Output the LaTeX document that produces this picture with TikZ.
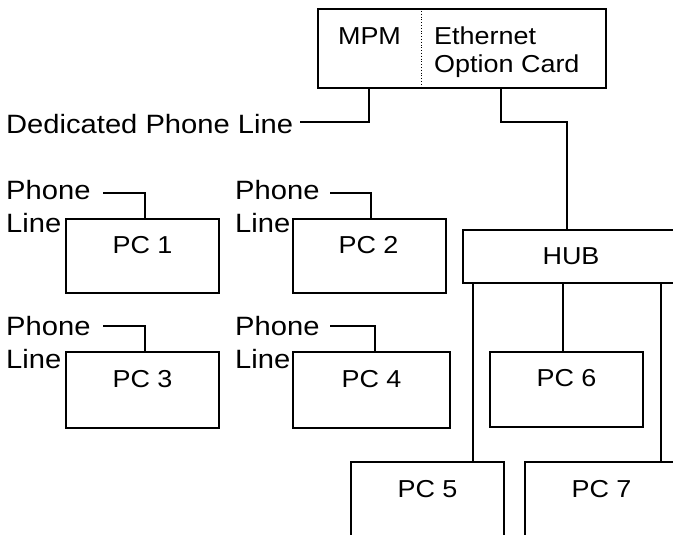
\documentclass[tikz,border=0pt]{standalone}
\usepackage{fontspec}
\setmainfont{Liberation Sans}[FakeStretch=1.1]
\begin{document}
\begin{tikzpicture}[x=1pt,y=-1pt,
  wire/.style={line width=1.7pt},
  box/.style={draw, line width=1.7pt, rectangle, inner sep=0pt},
  txt/.style={inner sep=0pt, font=\fontsize{26.5}{30}\selectfont},
  intxt/.style={inner sep=0pt, font=\fontsize{24.5}{28}\selectfont},
]
\useasboundingbox (0,0) rectangle (673,535);
\clip (0,0) rectangle (673,535);

% management module with the Ethernet card
\node[box, minimum width=288pt, minimum height=79pt] (card) at (462,48.5) {};
\coordinate (divx) at (421,0);
\draw[line width=0.8pt, dotted] (card.north -| divx) -- (card.south -| divx);
\node[intxt, anchor=base] (mpm) at (369.5,45) {MPM};
\node[intxt, anchor=base west] (eth) at (434,45) {Ethernet};
\node[intxt, anchor=base west] (opt) at (434,73) {Option Card};

% dedicated phone line
\node[txt, anchor=base west] (ded) at (6,133) {Dedicated Phone Line};
\coordinate (mpmx) at (369,0);
\coordinate (dedEnd) at (300,122);
\draw[wire] (card.south -| mpmx) |- (dedEnd);

% hub
\node[box, minimum width=216pt, minimum height=53pt] (hub) at (571,256.5) {};
\node[intxt, anchor=base] (hubt) at (571,264) {HUB};
\coordinate (ethx) at (501,0);
\coordinate (bend) at (567,122);
\draw[wire] (card.south -| ethx) |- (bend) -- (hub.north -| bend);

% dial-up PCs
\node[box, minimum width=153pt, minimum height=74pt] (pc1) at (142.5,256) {};
\node[box, minimum width=153pt, minimum height=74pt] (pc2) at (369.5,256) {};
\node[box, minimum width=153pt, minimum height=76pt] (pc3) at (142.5,390) {};
\node[box, minimum width=157pt, minimum height=76pt] (pc4) at (371.5,390) {};
\node[intxt, anchor=base] (pc1t) at (142.5,253) {PC 1};
\node[intxt, anchor=base] (pc2t) at (368.5,253) {PC 2};
\node[intxt, anchor=base] (pc3t) at (142.5,387) {PC 3};
\node[intxt, anchor=base] (pc4t) at (371.5,387) {PC 4};

\node[txt, anchor=base west] (ph1) at (6,199) {Phone};
\node[txt, anchor=base west] (ln1) at (6,233) {Line};
\node[txt, anchor=base west] (ph2) at (235,199) {Phone};
\node[txt, anchor=base west] (ln2) at (235,233) {Line};
\node[txt, anchor=base west] (ph3) at (6,335) {Phone};
\node[txt, anchor=base west] (ln3) at (6,368) {Line};
\node[txt, anchor=base west] (ph4) at (235,335) {Phone};
\node[txt, anchor=base west] (ln4) at (235,368) {Line};

\coordinate (s1) at (103,193);  \coordinate (t1) at (145,193);
\coordinate (s2) at (330,193);  \coordinate (t2) at (371,193);
\coordinate (s3) at (103,326);  \coordinate (t3) at (145,326);
\coordinate (s4) at (330,326);  \coordinate (t4) at (375,326);
\draw[wire] (s1) -- (t1) -- (pc1.north -| t1);
\draw[wire] (s2) -- (t2) -- (pc2.north -| t2);
\draw[wire] (s3) -- (t3) -- (pc3.north -| t3);
\draw[wire] (s4) -- (t4) -- (pc4.north -| t4);

% networked PCs
\node[box, minimum width=153pt, minimum height=75pt] (pc6) at (566.5,389.5) {};
\node[box, minimum width=153pt, minimum height=98pt] (pc5) at (427.5,511) {};
\node[box, minimum width=153pt, minimum height=98pt] (pc7) at (601.5,511) {};
\node[intxt, anchor=base] (pc6t) at (566.5,386.5) {PC 6};
\node[intxt, anchor=base] (pc5t) at (427.5,497) {PC 5};
\node[intxt, anchor=base] (pc7t) at (601.5,497) {PC 7};

\coordinate (h5) at (473,0);
\coordinate (h6) at (563,0);
\coordinate (h7) at (661,0);
\draw[wire] (hub.south -| h5) -- (pc5.north -| h5);
\draw[wire] (hub.south -| h6) -- (pc6.north -| h6);
\draw[wire] (hub.south -| h7) -- (pc7.north -| h7);
\end{tikzpicture}
\end{document}
